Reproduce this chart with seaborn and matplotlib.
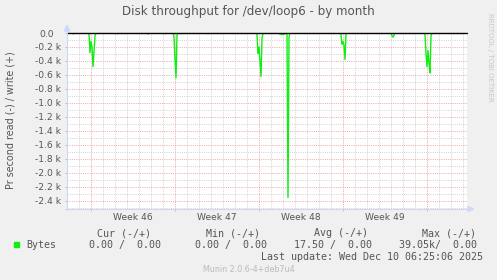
import matplotlib
matplotlib.use("Agg")
import matplotlib.pyplot as plt
import seaborn as sns
import pandas as pd
from matplotlib.patches import Rectangle, Polygon
from matplotlib.lines import Line2D
from matplotlib.transforms import ScaledTranslation, blended_transform_factory

# ---------------- data ----------------
# hours since graph start (2 h per sample), read bytes/s shown as negative
hours = [0,
         10, 12, 14,
         44, 46, 48, 50, 52, 54, 56, 58,
         98, 100, 102,
         160, 162, 164,
         194, 196, 198,
         212, 214, 216, 218, 220, 222,
         226, 228, 230,
         280, 282, 284,
         378, 380, 382, 384, 386, 388, 390, 392,
         424, 426, 428, 430, 432, 434, 436,
         438, 440, 442, 444, 446,
         546, 548, 550, 552, 554, 556, 558, 560,
         648, 650, 652, 654, 656,
         714, 716, 718, 720, 722, 724, 726, 728, 730,
         800]
read_bytes = [0,
              0, -12, 0,
              0, -280, -120, -200, -480, -270, -40, 0,
              0, -12, 0,
              0, -15, 0,
              0, -10, 0,
              0, -50, -380, -640, -30, 0,
              0, -12, 0,
              0, -12, 0,
              0, -20, -290, -200, -400, -620, -80, 0,
              0, -20, -10, -25, -10, -20, 0,
              0, -30, -2350, -60, 0,
              0, -20, -160, -120, -180, -380, -20, 0,
              0, -40, -60, -30, 0,
              0, -20, -300, -480, -250, -440, -570, -40, 0,
              0]
week_lines = [48, 216, 384, 552, 720]
week_labels = ["Week 46", "Week 47", "Week 48", "Week 49"]
ytick_vals = [0, -200, -400, -600, -800, -1000, -1200, -1400, -1600,
              -1800, -2000, -2200, -2400]
ytick_labels = ["0.0", "-0.2 k", "-0.4 k", "-0.6 k", "-0.8 k", "-1.0 k",
                "-1.2 k", "-1.4 k", "-1.6 k", "-1.8 k", "-2.0 k", "-2.2 k",
                "-2.4 k"]
legend_headers = ["Cur (-/+)", "Min (-/+)", "Avg (-/+)", "Max (-/+)"]
legend_values = ["0.00 /  0.00", "0.00 /  0.00", "17.50 /  0.00", "39.05k/  0.00"]
series_name = "Bytes"
title = "Disk throughput for /dev/loop6 - by month"
ylabel = "Pr second read (-) / write (+)"
last_update = "Last update: Wed Dec 10 06:25:06 2025"
footer = "Munin 2.0.6-4+deb7u4"
watermark = "RRDTOOL / TOBI OETIKER"

# ---------------- style ----------------
sns.set_style("white")
plt.rcParams['font.family'] = ['DejaVu Sans']

W, H = 497, 280
BG = "#F0F0F0"
FONT = "#555555"
AXIS = "#CFD6F8"
GRID = "#D4D4D4"
MGRID = "#F0AAAA"
GREEN = "#11EE11"
MONO = "DejaVu Sans Mono"


def fx(x):
    return x / W


def fy(y):
    return 1 - y / H


fig = plt.figure(figsize=(W / 100, H / 100), dpi=100, facecolor=BG)
ax = fig.add_axes([fx(67), fy(209), 400 / W, 176 / H])
ax.set_facecolor("white")
ax.set_xlim(0, 800)
ax.set_ylim(-2514.3, 0)
for s in ax.spines.values():
    s.set_visible(False)

# grid
dot = (0, (1, 1.2))
for h in range(0, 800, 24):
    if h not in week_lines:
        ax.axvline(h, color=GRID, lw=0.72, ls=dot, zorder=1)
for h in week_lines:
    ax.axvline(h, color=MGRID, lw=0.72, ls=dot, zorder=1.5)
for v in range(-100, -2600, -200):
    ax.axhline(v, color=GRID, lw=0.72, ls=dot, zorder=1)
for v in ytick_vals[1:]:
    ax.axhline(v, color=MGRID, lw=0.72, ls=dot, zorder=1.5)

# data
df = pd.DataFrame({"hours": hours, "bytes": read_bytes})
sns.lineplot(data=df, x="hours", y="bytes", ax=ax, color=GREEN, lw=1.0,
             estimator=None, sort=False, zorder=3)
ax.axhline(0, color="black", lw=1.0, zorder=4, clip_on=False)

# ticks
ax.set_yticks(ytick_vals)
ax.set_yticklabels(ytick_labels)
ax.tick_params(axis="y", length=1.5, width=0.7, color="#BBBBBB", pad=2.9,
               labelsize=6.6, labelcolor=FONT, left=True)
lbl0 = ax.get_yticklabels()[0]
lbl0.set_transform(lbl0.get_transform() + ScaledTranslation(-7 / 100, 0, fig.dpi_scale_trans))
ax.set_xticks(week_lines)
ax.set_xticklabels([])
ax.tick_params(axis="x", length=1.5, width=0.7, color=MGRID, bottom=True)
ax.set_xlabel("")
ax.set_ylabel("")

trans = blended_transform_factory(ax.transData, ax.transAxes)
for i, lab in enumerate(week_labels):
    xc = (week_lines[i] + week_lines[i + 1]) / 2
    ax.text(xc, -8 / 176, lab, transform=trans, ha="center", va="center",
            fontsize=6.6, color=FONT)

# axes lines with arrows
fig.add_artist(Line2D([fx(67), fx(67)], [fy(210), fy(30)], color=AXIS, lw=0.8))
fig.add_artist(Line2D([fx(65), fx(469)], [fy(209), fy(209)], color=AXIS, lw=0.8))
fig.add_artist(Polygon([[fx(64.5), fy(31)], [fx(69.5), fy(31)], [fx(67), fy(25.5)]],
                       closed=True, color=AXIS, transform=fig.transFigure))
fig.add_artist(Polygon([[fx(468), fy(206.5)], [fx(468), fy(211.5)], [fx(473.5), fy(209)]],
                       closed=True, color=AXIS, transform=fig.transFigure))

# texts
fig.text(fx(248.5), fy(12), title, ha="center", va="center", fontsize=8.6, color=FONT)
fig.text(fx(10.5), fy(120), ylabel, ha="center", va="center", rotation=90,
         fontsize=6.9, color=FONT)
fig.text(fx(490), fy(57), watermark, ha="center", va="center", rotation=270,
         fontsize=5.0, color="#C8C8C8")

# legend
fig.add_artist(Rectangle((fx(14), fy(247)), 5 / W, 5 / H, color=GREEN,
                         transform=fig.transFigure))
fig.text(fx(26.5), fy(245), series_name, ha="left", va="center",
         fontsize=7.2, color=FONT, family=MONO)
head_right = [151, 260, 368, 476]
val_right = [161, 267, 372, 477]
for hdr, xr in zip(legend_headers, head_right):
    fig.text(fx(xr), fy(233.5), hdr, ha="right", va="center", fontsize=7.2,
             color=FONT, family=MONO)
for val, xr in zip(legend_values, val_right):
    fig.text(fx(xr), fy(245), val, ha="right", va="center", fontsize=7.2,
             color=FONT, family=MONO)
fig.text(fx(483), fy(257.5), last_update, ha="right", va="center", fontsize=7.2,
         color=FONT, family=MONO)
fig.text(fx(249), fy(269.5), footer, ha="center", va="center", fontsize=5.8,
         color="#BBBBBB")

fig.savefig("out.png", dpi=100, facecolor=BG)
